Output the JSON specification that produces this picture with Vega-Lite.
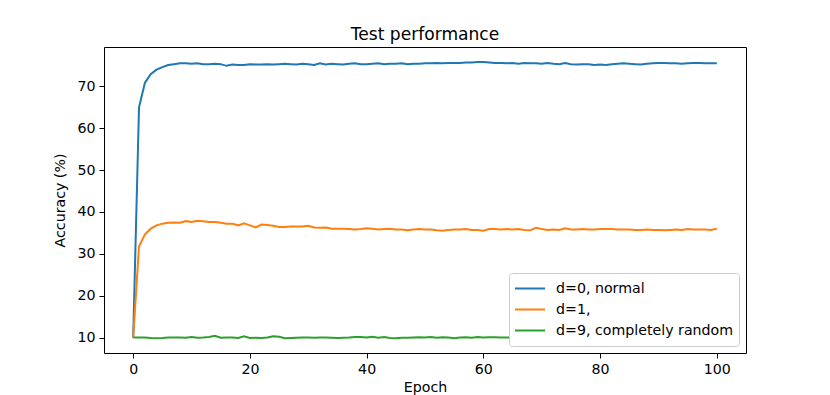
{
  "$schema": "https://vega.github.io/schema/vega-lite/v6.json",
  "width": 642,
  "height": 306,
  "autosize": {"type": "none"},
  "padding": {"left": 104, "top": 47, "right": 84, "bottom": 42},
  "background": "white",
  "title": {"text": "Test performance", "fontSize": 17.1, "font": "DejaVu Sans", "fontWeight": "normal", "offset": 4, "color": "black"},
  "config": {
    "view": {"stroke": "black", "strokeWidth": 1},
    "axis": {
      "grid": false,
      "domain": false,
      "tickColor": "black",
      "tickSize": 5,
      "tickWidth": 1,
      "labelFont": "DejaVu Sans",
      "labelFontSize": 14.2,
      "labelColor": "black",
      "labelPadding": 4,
      "titleFont": "DejaVu Sans",
      "titleFontSize": 14.2,
      "titleFontWeight": "normal",
      "titleColor": "black"
    },
    "legend": {
      "labelFont": "DejaVu Sans",
      "labelFontSize": 14.2,
      "labelColor": "black"
    }
  },
  "data": {"values": [
    {"epoch":0,"d=0, normal":10,"d=1,":10,"d=9, completely random":10},
    {"epoch":1,"d=0, normal":65.0,"d=1,":31.8,"d=9, completely random":10.0},
    {"epoch":2,"d=0, normal":70.8,"d=1,":34.6,"d=9, completely random":10.0},
    {"epoch":3,"d=0, normal":72.9,"d=1,":36.0,"d=9, completely random":9.9},
    {"epoch":4,"d=0, normal":74.0,"d=1,":36.8,"d=9, completely random":9.85},
    {"epoch":5,"d=0, normal":74.6,"d=1,":37.2,"d=9, completely random":9.9},
    {"epoch":6,"d=0, normal":75.1,"d=1,":37.4,"d=9, completely random":10.0},
    {"epoch":7,"d=0, normal":75.3,"d=1,":37.5,"d=9, completely random":10.0},
    {"epoch":8,"d=0, normal":75.5,"d=1,":37.4,"d=9, completely random":10.0},
    {"epoch":9,"d=0, normal":75.5,"d=1,":37.8,"d=9, completely random":9.95},
    {"epoch":10,"d=0, normal":75.4,"d=1,":37.6,"d=9, completely random":10.1},
    {"epoch":11,"d=0, normal":75.5,"d=1,":37.9,"d=9, completely random":9.95},
    {"epoch":12,"d=0, normal":75.3,"d=1,":37.8,"d=9, completely random":10.0},
    {"epoch":13,"d=0, normal":75.3,"d=1,":37.6,"d=9, completely random":10.1},
    {"epoch":14,"d=0, normal":75.4,"d=1,":37.6,"d=9, completely random":10.4},
    {"epoch":15,"d=0, normal":75.3,"d=1,":37.4,"d=9, completely random":9.95},
    {"epoch":16,"d=0, normal":74.9,"d=1,":37.2,"d=9, completely random":10.0},
    {"epoch":17,"d=0, normal":75.2,"d=1,":37.2,"d=9, completely random":10.0},
    {"epoch":18,"d=0, normal":75.1,"d=1,":36.8,"d=9, completely random":9.9},
    {"epoch":19,"d=0, normal":75.1,"d=1,":37.3,"d=9, completely random":10.3},
    {"epoch":20,"d=0, normal":75.3,"d=1,":36.8,"d=9, completely random":9.9},
    {"epoch":21,"d=0, normal":75.2,"d=1,":36.3,"d=9, completely random":9.95},
    {"epoch":22,"d=0, normal":75.2,"d=1,":37.0,"d=9, completely random":9.9},
    {"epoch":23,"d=0, normal":75.3,"d=1,":36.9,"d=9, completely random":10.0},
    {"epoch":24,"d=0, normal":75.2,"d=1,":36.7,"d=9, completely random":10.3},
    {"epoch":25,"d=0, normal":75.3,"d=1,":36.4,"d=9, completely random":10.2},
    {"epoch":26,"d=0, normal":75.4,"d=1,":36.4,"d=9, completely random":9.85},
    {"epoch":27,"d=0, normal":75.3,"d=1,":36.5,"d=9, completely random":9.9},
    {"epoch":28,"d=0, normal":75.2,"d=1,":36.5,"d=9, completely random":9.95},
    {"epoch":29,"d=0, normal":75.4,"d=1,":36.5,"d=9, completely random":10.0},
    {"epoch":30,"d=0, normal":75.3,"d=1,":36.7,"d=9, completely random":10.0},
    {"epoch":31,"d=0, normal":75.1,"d=1,":36.3,"d=9, completely random":9.95},
    {"epoch":32,"d=0, normal":75.5,"d=1,":36.2,"d=9, completely random":10.0},
    {"epoch":33,"d=0, normal":75.2,"d=1,":36.3,"d=9, completely random":10.0},
    {"epoch":34,"d=0, normal":75.4,"d=1,":36.0,"d=9, completely random":9.95},
    {"epoch":35,"d=0, normal":75.3,"d=1,":36.0,"d=9, completely random":9.9},
    {"epoch":36,"d=0, normal":75.2,"d=1,":36.0,"d=9, completely random":9.95},
    {"epoch":37,"d=0, normal":75.4,"d=1,":35.9,"d=9, completely random":10.0},
    {"epoch":38,"d=0, normal":75.5,"d=1,":35.8,"d=9, completely random":10.1},
    {"epoch":39,"d=0, normal":75.3,"d=1,":35.9,"d=9, completely random":10.15},
    {"epoch":40,"d=0, normal":75.3,"d=1,":36.1,"d=9, completely random":10.0},
    {"epoch":41,"d=0, normal":75.4,"d=1,":36.0,"d=9, completely random":10.2},
    {"epoch":42,"d=0, normal":75.5,"d=1,":35.8,"d=9, completely random":9.95},
    {"epoch":43,"d=0, normal":75.3,"d=1,":35.9,"d=9, completely random":10.1},
    {"epoch":44,"d=0, normal":75.4,"d=1,":36.0,"d=9, completely random":9.9},
    {"epoch":45,"d=0, normal":75.4,"d=1,":35.8,"d=9, completely random":9.85},
    {"epoch":46,"d=0, normal":75.5,"d=1,":35.8,"d=9, completely random":9.95},
    {"epoch":47,"d=0, normal":75.3,"d=1,":35.6,"d=9, completely random":9.95},
    {"epoch":48,"d=0, normal":75.4,"d=1,":35.8,"d=9, completely random":10.0},
    {"epoch":49,"d=0, normal":75.4,"d=1,":35.9,"d=9, completely random":10.05},
    {"epoch":50,"d=0, normal":75.5,"d=1,":35.8,"d=9, completely random":10.0},
    {"epoch":51,"d=0, normal":75.5,"d=1,":35.8,"d=9, completely random":10.1},
    {"epoch":52,"d=0, normal":75.6,"d=1,":35.6,"d=9, completely random":9.95},
    {"epoch":53,"d=0, normal":75.5,"d=1,":35.5,"d=9, completely random":10.05},
    {"epoch":54,"d=0, normal":75.6,"d=1,":35.7,"d=9, completely random":10.0},
    {"epoch":55,"d=0, normal":75.6,"d=1,":35.8,"d=9, completely random":9.8},
    {"epoch":56,"d=0, normal":75.6,"d=1,":35.8,"d=9, completely random":10.0},
    {"epoch":57,"d=0, normal":75.7,"d=1,":35.9,"d=9, completely random":10.05},
    {"epoch":58,"d=0, normal":75.7,"d=1,":35.7,"d=9, completely random":9.95},
    {"epoch":59,"d=0, normal":75.8,"d=1,":35.7,"d=9, completely random":10.1},
    {"epoch":60,"d=0, normal":75.8,"d=1,":35.5,"d=9, completely random":10.0},
    {"epoch":61,"d=0, normal":75.7,"d=1,":35.9,"d=9, completely random":10.05},
    {"epoch":62,"d=0, normal":75.6,"d=1,":35.9,"d=9, completely random":10.05},
    {"epoch":63,"d=0, normal":75.6,"d=1,":35.8,"d=9, completely random":10.0},
    {"epoch":64,"d=0, normal":75.5,"d=1,":35.9,"d=9, completely random":10.0},
    {"epoch":65,"d=0, normal":75.6,"d=1,":35.8,"d=9, completely random":10.0},
    {"epoch":66,"d=0, normal":75.4,"d=1,":35.9,"d=9, completely random":10.05},
    {"epoch":67,"d=0, normal":75.6,"d=1,":35.7,"d=9, completely random":10.0},
    {"epoch":68,"d=0, normal":75.5,"d=1,":35.6,"d=9, completely random":10.0},
    {"epoch":69,"d=0, normal":75.5,"d=1,":36.2,"d=9, completely random":10.05},
    {"epoch":70,"d=0, normal":75.4,"d=1,":35.9,"d=9, completely random":10.0},
    {"epoch":71,"d=0, normal":75.6,"d=1,":35.7,"d=9, completely random":10.0},
    {"epoch":72,"d=0, normal":75.4,"d=1,":35.8,"d=9, completely random":10.05},
    {"epoch":73,"d=0, normal":75.3,"d=1,":35.7,"d=9, completely random":10.0},
    {"epoch":74,"d=0, normal":75.6,"d=1,":36.1,"d=9, completely random":10.0},
    {"epoch":75,"d=0, normal":75.3,"d=1,":35.8,"d=9, completely random":10.0},
    {"epoch":76,"d=0, normal":75.2,"d=1,":35.8,"d=9, completely random":10.05},
    {"epoch":77,"d=0, normal":75.3,"d=1,":35.9,"d=9, completely random":10.0},
    {"epoch":78,"d=0, normal":75.3,"d=1,":35.8,"d=9, completely random":10.0},
    {"epoch":79,"d=0, normal":75.1,"d=1,":35.8,"d=9, completely random":10.0},
    {"epoch":80,"d=0, normal":75.2,"d=1,":35.9,"d=9, completely random":10.05},
    {"epoch":81,"d=0, normal":75.1,"d=1,":35.9,"d=9, completely random":10.0},
    {"epoch":82,"d=0, normal":75.3,"d=1,":35.9,"d=9, completely random":10.0},
    {"epoch":83,"d=0, normal":75.4,"d=1,":35.8,"d=9, completely random":10.0},
    {"epoch":84,"d=0, normal":75.5,"d=1,":35.8,"d=9, completely random":10.0},
    {"epoch":85,"d=0, normal":75.4,"d=1,":35.8,"d=9, completely random":10.05},
    {"epoch":86,"d=0, normal":75.3,"d=1,":35.7,"d=9, completely random":10.0},
    {"epoch":87,"d=0, normal":75.2,"d=1,":35.7,"d=9, completely random":10.0},
    {"epoch":88,"d=0, normal":75.4,"d=1,":35.8,"d=9, completely random":10.0},
    {"epoch":89,"d=0, normal":75.5,"d=1,":35.7,"d=9, completely random":10.0},
    {"epoch":90,"d=0, normal":75.6,"d=1,":35.7,"d=9, completely random":10.05},
    {"epoch":91,"d=0, normal":75.6,"d=1,":35.6,"d=9, completely random":10.0},
    {"epoch":92,"d=0, normal":75.5,"d=1,":35.7,"d=9, completely random":10.0},
    {"epoch":93,"d=0, normal":75.5,"d=1,":35.8,"d=9, completely random":10.0},
    {"epoch":94,"d=0, normal":75.4,"d=1,":35.7,"d=9, completely random":10.0},
    {"epoch":95,"d=0, normal":75.5,"d=1,":35.9,"d=9, completely random":10.0},
    {"epoch":96,"d=0, normal":75.6,"d=1,":35.8,"d=9, completely random":10.0},
    {"epoch":97,"d=0, normal":75.6,"d=1,":35.8,"d=9, completely random":10.0},
    {"epoch":98,"d=0, normal":75.5,"d=1,":35.8,"d=9, completely random":10.0},
    {"epoch":99,"d=0, normal":75.5,"d=1,":35.7,"d=9, completely random":10.0},
    {"epoch":100,"d=0, normal":75.5,"d=1,":36.0,"d=9, completely random":10.0}
  ]},
  "transform": [
    {"fold": ["d=0, normal", "d=1,", "d=9, completely random"], "as": ["series", "acc"]}
  ],
  "mark": {"type": "line", "strokeWidth": 2, "clip": true},
  "encoding": {
    "x": {
      "field": "epoch", "type": "quantitative",
      "scale": {"domain": [-5, 105], "nice": false, "zero": false},
      "axis": {"values": [0, 20, 40, 60, 80, 100], "title": "Epoch", "titlePadding": 4}
    },
    "y": {
      "field": "acc", "type": "quantitative",
      "scale": {"domain": [6.3, 79.4], "nice": false, "zero": false},
      "axis": {"values": [10, 20, 30, 40, 50, 60, 70], "title": "Accuracy (%)", "titlePadding": 9}
    },
    "color": {
      "field": "series", "type": "nominal",
      "scale": {"domain": ["d=0, normal", "d=1,", "d=9, completely random"], "range": ["#1f77b4", "#ff7f0e", "#2ca02c"]},
      "legend": {
        "title": null,
        "orient": "bottom-right",
        "offset": 7,
        "symbolType": "stroke",
        "symbolSize": 900,
        "symbolStrokeWidth": 2,
        "labelOffset": 10,
        "labelLimit": 0,
        "clipHeight": 21,
        "rowPadding": 0,
        "padding": 5,
        "strokeColor": "#cccccc",
        "fillColor": "white",
        "cornerRadius": 3
      }
    }
  }
}
